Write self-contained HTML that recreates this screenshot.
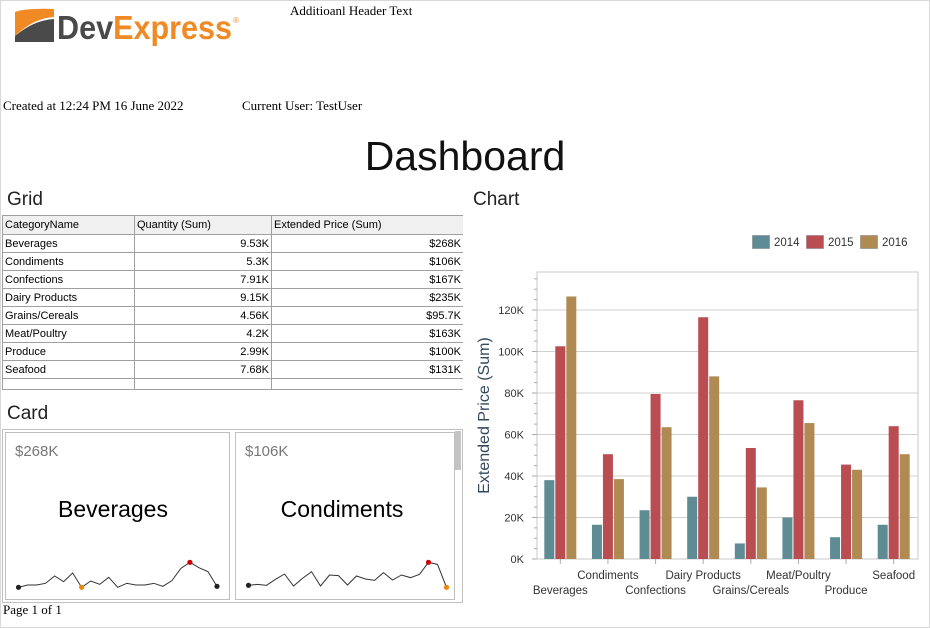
<!DOCTYPE html>
<html><head><meta charset="utf-8"><style>
body{margin:0;width:930px;height:628px;position:relative;overflow:hidden;background:#fff;font-family:"Liberation Sans",sans-serif}
.a{position:absolute}
.serif{font-family:"Liberation Serif",serif;font-size:13px;color:#000}
table{border-collapse:collapse;font-size:11px;font-family:"Liberation Sans",sans-serif}
td{border:1px solid #a0a0a0;height:17px;padding:0 2px;white-space:nowrap;overflow:hidden;line-height:16px}
td.r{text-align:right}
tr.h td{background:#f0f0f0}
</style></head><body>
<div class="a" style="left:0;top:0;width:928px;height:626px;border:1px solid #d8d8d8"></div>
<div class="a" style="left:14px;top:6px;width:230px;height:40px">
<svg width="230" height="40"><path d="M1 6 Q12 2 40 3 L40 11 Q20 12 1 30Z" fill="#f08a24"/><path d="M1 30 Q20 14 40 13 L40 36 L1 36Z" fill="#4a4a4a"/>
<text x="43" y="33" font-size="33" font-family="Liberation Sans,sans-serif" fill="#4a4a4a" font-weight="bold" textLength="175" lengthAdjust="spacingAndGlyphs">Dev<tspan fill="#f08a24">Express</tspan></text><text x="219" y="17" font-size="8" fill="#f08a24">®</text></svg></div>
<div class="a serif" style="left:290px;top:3px">Additioanl Header Text</div>
<div class="a serif" style="left:3px;top:98px">Created at 12:24 PM 16 June 2022</div>
<div class="a serif" style="left:242px;top:98px">Current User: TestUser</div>
<div class="a" style="left:0;width:930px;top:133px;text-align:center;font-size:41px;font-family:'Liberation Sans',sans-serif;color:#111">Dashboard</div>
<div class="a" style="left:7px;top:189px;font-size:19px;color:#222">Grid</div>
<div class="a" style="left:473px;top:189px;font-size:19px;color:#222">Chart</div>
<div class="a" style="left:7px;top:403px;font-size:19px;color:#222">Card</div>
<div class="a" style="left:2px;top:215px;width:461px;height:174px;overflow:hidden;border-bottom:1px solid #a0a0a0">
<table style="width:461px;table-layout:fixed"><colgroup><col style="width:132px"><col style="width:137px"><col style="width:192px"></colgroup>
<tr class="h"><td style="height:18px">CategoryName</td><td>Quantity (Sum)</td><td>Extended Price (Sum)</td></tr>
<tr><td>Beverages</td><td class="r">9.53K</td><td class="r">$268K</td></tr>
<tr><td>Condiments</td><td class="r">5.3K</td><td class="r">$106K</td></tr>
<tr><td>Confections</td><td class="r">7.91K</td><td class="r">$167K</td></tr>
<tr><td>Dairy Products</td><td class="r">9.15K</td><td class="r">$235K</td></tr>
<tr><td>Grains/Cereals</td><td class="r">4.56K</td><td class="r">$95.7K</td></tr>
<tr><td>Meat/Poultry</td><td class="r">4.2K</td><td class="r">$163K</td></tr>
<tr><td>Produce</td><td class="r">2.99K</td><td class="r">$100K</td></tr>
<tr><td>Seafood</td><td class="r">7.68K</td><td class="r">$131K</td></tr>
<tr><td style="height:20px"></td><td></td><td></td></tr></table></div>
<div class="a" style="left:2px;top:429px;width:459px;height:172px;border:1px solid #c0c0c0"></div>
<div class="a" style="left:455px;top:431px;width:6px;height:39px;background:#c4c4c4"></div>
<div class="a" style="left:5px;top:432px;width:223px;height:166px;border:1px solid #c0c0c0">
<div class="a" style="left:9px;top:10px;font-size:15px;color:#777">$268K</div>
<div class="a" style="left:0;width:214px;text-align:center;top:63px;font-size:23px">Beverages</div></div>
<div class="a" style="left:235px;top:432px;width:218px;height:166px;border:1px solid #c0c0c0">
<div class="a" style="left:9px;top:10px;font-size:15px;color:#777">$106K</div>
<div class="a" style="left:0;width:212px;text-align:center;top:63px;font-size:23px">Condiments</div></div>
<svg class="a" id="spark" style="left:0;top:0" width="465" height="628"></svg>
<div class="a serif" style="left:3px;top:602px">Page 1 of 1</div>
<svg class="a" id="chart" style="left:0;top:0" width="930" height="628"></svg>
<script>
const NS="http://www.w3.org/2000/svg";
function mk(p,t,a){const e=document.createElementNS(NS,t);for(const k in a)e.setAttribute(k,a[k]);p.appendChild(e);return e;}
const spark1=[487,480,480,475,453,470,444,487,468,478,457,487,475,480,480,475,484,467,430,412,428,440,484];
const spark2=[481,478,481,463,447,483,460,440,483,450,452,480,453,462,466,443,465,450,458,448,412,418,487];
const sp=document.getElementById('spark');
function drawSpark(d,x0,x1,marks){
  const sx=i=>x0+(x1-x0)*i/(d.length-1), sy=v=>425+v/3;
  const pl=mk(sp,'polyline',{points:d.map((v,i)=>sx(i)+','+sy(v)).join(' '),fill:'none',stroke:'#333',"stroke-width":1});
  
  
  marks.forEach(([i,c])=>{const m=mk(sp,'circle',{cx:sx(i),cy:sy(d[i]),r:2.6,fill:c});
    
    });
}
drawSpark(spark1,18.5,217,[[0,'#222'],[7,'#e8870c'],[19,'#c00'],[22,'#222']]);
drawSpark(spark2,248.5,446.5,[[0,'#222'],[20,'#c00'],[22,'#e8870c']]);

const categories=["Beverages","Condiments","Confections","Dairy Products","Grains/Cereals","Meat/Poultry","Produce","Seafood"];
const s2014=[38,16.5,23.5,30,7.5,20,10.5,16.5];
const s2015=[102.5,50.5,79.5,116.5,53.5,76.5,45.5,64];
const s2016=[126.5,38.5,63.5,88,34.5,65.5,43,50.5];
const yTicks=[0,20,40,60,80,100,120];
const seriesNames=["2014","2015","2016"];
const colors=["#5f8b95","#ba4d51","#af8a53"];
const L=537,R=918,T=272,B=559,yMax=138.3;
const y=v=>B-(B-T)*v/yMax;
const bw=(R-L)/categories.length;
const xc=i=>L+bw*(i+0.5)-0.5;
const c=document.getElementById('chart');
mk(c,'rect',{x:L,y:T,width:R-L,height:B-T,fill:'none',stroke:'#c8c8c8'});
yTicks.forEach(t=>{
  if(t>0){const g=mk(c,'line',{x1:L,x2:R,y1:y(t),y2:y(t),stroke:'#d0d0d0'});
  
  }
  const tx=mk(c,'text',{x:L-13,y:y(t)+4,"text-anchor":"end","font-size":11,fill:'#333',"font-family":"Liberation Sans,sans-serif"});
  tx.textContent=t+'K';
  
  
});
for(let v=0;v<=yMax;v+=5){mk(c,'line',{x1:L-(v%20==0?5:3),x2:L,y1:y(v),y2:y(v),stroke:'#aaa'});}
const yt=mk(c,'text',{transform:'translate(489,'+(T+B)/2+') rotate(-90)',"text-anchor":"middle","font-size":16,fill:'#33495f',"font-family":"Liberation Sans,sans-serif"});
yt.textContent='Extended Price (Sum)';


const series=[s2014,s2015,s2016];
categories.forEach((cat,i)=>{
  mk(c,'line',{x1:xc(i),x2:xc(i),y1:B,y2:B+5,stroke:'#aaa'});
  series.forEach((s,k)=>{
    const b=mk(c,'rect',{x:xc(i)-16+k*11,y:y(s[i]),width:10,height:B-y(s[i]),fill:colors[k]});
    
    
  });
  const lb=mk(c,'text',{x:xc(i),y:i%2==0?594:579,"text-anchor":"middle","font-size":11.5,fill:'#333',"font-family":"Liberation Sans,sans-serif"});
  lb.textContent=cat;
  
  
});
const lx=[752,806,860];
seriesNames.forEach((n,k)=>{
  const r=mk(c,'rect',{x:lx[k]+0.5,y:235.5,width:17,height:13,fill:colors[k],stroke:'#666',"stroke-opacity":0.4});
  
  
  const t=mk(c,'text',{x:lx[k]+22,y:246,"font-size":11.5,fill:'#333',"font-family":"Liberation Sans,sans-serif"});
  t.textContent=n;
  
  
});
</script>
</body></html>
